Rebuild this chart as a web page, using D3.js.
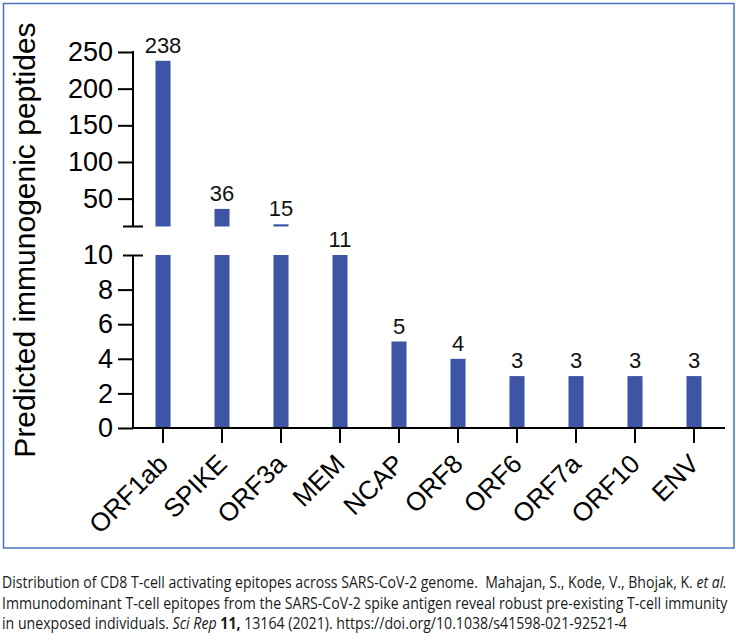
<!DOCTYPE html>
<html>
<head>
<meta charset="utf-8">
<script src="https://cdn.jsdelivr.net/npm/d3@7"></script>
<style>
  html, body { margin: 0; padding: 0; background: #fff; }
  svg { display: block; }
</style>
</head>
<body>
<div id="chart"></div>
<script>
// ---- data ----
const categories = ["ORF1ab", "SPIKE", "ORF3a", "MEM", "NCAP", "ORF8", "ORF6", "ORF7a", "ORF10", "ENV"];
const values = [238, 36, 15, 11, 5, 4, 3, 3, 3, 3];
const upperTicks = [50, 100, 150, 200, 250];
const lowerTicks = [0, 2, 4, 6, 8, 10];
const lowerDomain = [0, 10];
const upperDomain = [12, 250];
const yTitle = "Predicted immunogenic peptides";

const W = 736, H = 644;
const svg = d3.select("#chart").append("svg").attr("width", W).attr("height", H);

// frame
svg.append("rect").attr("x", 3.5).attr("y", 3.5).attr("width", 730.5).attr("height", 544.5)
  .attr("fill", "none").attr("stroke", "#4a72c2").attr("stroke-width", 1.5);

const axisX = 133;
const x = d3.scaleBand().domain(categories).range([133.5, 723.5]).padding(0);
const barW = x.bandwidth() * 0.255;
const yLow = d3.scaleLinear().domain(lowerDomain).range([428, 255]);
const yUp = d3.scaleLinear().domain(upperDomain).range([226.5, 52]);

const font = "'Liberation Sans', Arial, Helvetica, sans-serif";
const barColor = "#3e54a5";

// bars - lower segment
svg.append("g").selectAll("rect").data(values).join("rect")
  .attr("x", (d, i) => x(categories[i]) + x.bandwidth() / 2 - barW / 2)
  .attr("width", barW)
  .attr("y", d => yLow(Math.min(d, lowerDomain[1])))
  .attr("height", d => yLow(0) - yLow(Math.min(d, lowerDomain[1])))
  .attr("fill", barColor);

// bars - upper segment
const upperData = values.map((v, i) => ({ c: categories[i], v })).filter(d => d.v > upperDomain[0]);
svg.append("g").selectAll("rect").data(upperData).join("rect")
  .attr("x", d => x(d.c) + x.bandwidth() / 2 - barW / 2)
  .attr("width", barW)
  .attr("y", d => yUp(d.v))
  .attr("height", d => yUp(upperDomain[0]) - yUp(d.v))
  .attr("fill", barColor);

// value labels
svg.append("g").selectAll("text").data(values).join("text")
  .attr("x", (d, i) => x(categories[i]) + x.bandwidth() / 2)
  .attr("y", d => (d > upperDomain[0] ? yUp(d) : yLow(Math.min(d, lowerDomain[1]))) - 8)
  .attr("text-anchor", "middle")
  .attr("font-family", font).attr("font-size", 22).attr("fill", "#111")
  .text(d => d);

// lower y axis
const gLow = svg.append("g").attr("transform", `translate(${axisX},0)`)
  .call(d3.axisLeft(yLow).tickValues(lowerTicks).tickSize(15).tickPadding(5).tickFormat(d3.format("d")));
gLow.select(".domain").remove();
gLow.selectAll(".tick line").attr("stroke", "#000").attr("stroke-width", 2)
  .filter(d => d === lowerDomain[1]).attr("x1", -10).attr("x2", 10);
gLow.selectAll(".tick text").attr("font-family", font).attr("font-size", 27).attr("fill", "#000");
gLow.append("line").attr("x1", 0).attr("x2", 0).attr("y1", yLow(lowerDomain[1])).attr("y2", yLow(0))
  .attr("stroke", "#000").attr("stroke-width", 2);

// upper y axis
const gUp = svg.append("g").attr("transform", `translate(${axisX},0)`)
  .call(d3.axisLeft(yUp).tickValues(upperTicks).tickSize(15).tickPadding(5).tickFormat(d3.format("d")));
gUp.select(".domain").remove();
gUp.selectAll(".tick line").attr("stroke", "#000").attr("stroke-width", 2);
gUp.selectAll(".tick text").attr("font-family", font).attr("font-size", 27).attr("fill", "#000");
gUp.append("line").attr("x1", 0).attr("x2", 0).attr("y1", yUp(upperTicks[upperTicks.length - 1]) - 1).attr("y2", yUp(upperDomain[0]))
  .attr("stroke", "#000").attr("stroke-width", 2);
gUp.append("line").attr("x1", -10).attr("x2", 10).attr("y1", yUp(upperDomain[0])).attr("y2", yUp(upperDomain[0]))
  .attr("stroke", "#000").attr("stroke-width", 2);

// x axis
const gX = svg.append("g").attr("transform", `translate(0,${yLow(0)})`)
  .call(d3.axisBottom(x).tickSize(15).tickSizeOuter(0));
gX.select(".domain").attr("d", `M${axisX},0H725`).attr("stroke", "#000").attr("stroke-width", 2);
gX.selectAll(".tick line").attr("stroke", "#000").attr("stroke-width", 2);
gX.selectAll(".tick text")
  .attr("font-family", font).attr("font-size", 26).attr("fill", "#000")
  .attr("text-anchor", "end")
  .attr("x", 0).attr("y", 0).attr("dy", "0.35em")
  .attr("transform", "translate(0,31) rotate(-45)");

// y title
svg.append("text")
  .attr("transform", "translate(35,240) rotate(-90)")
  .attr("text-anchor", "middle")
  .attr("font-family", font).attr("font-size", 30).attr("fill", "#000")
  .text(yTitle);

// caption
const capFont = "'Open Sans', 'Noto Sans', sans-serif";
const cap = svg.append("g").attr("font-family", capFont).attr("font-size", 15.5).attr("fill", "#1a1a1a");
function fitLine(sel, y, target) {
  sel.attr("x", 0).attr("y", 0);
  const w = sel.node().getComputedTextLength();
  sel.attr("transform", `translate(2,${y}) scale(${target / w},1)`);
}
const l1 = cap.append("text");
l1.append("tspan").text("Distribution of CD8 T-cell activating epitopes across SARS-CoV-2 genome.  Mahajan, S., Kode, V., Bhojak, K. ");
l1.append("tspan").attr("font-style", "italic").text("et al.");
l1.attr("xml:space", "preserve").style("white-space", "pre");
fitLine(l1, 588, 725);
const l2 = cap.append("text");
l2.text("Immunodominant T-cell epitopes from the SARS-CoV-2 spike antigen reveal robust pre-existing T-cell immunity");
fitLine(l2, 609, 726);
const l3 = cap.append("text");
l3.append("tspan").text("in unexposed individuals. ");
l3.append("tspan").attr("font-style", "italic").text("Sci Rep");
l3.append("tspan").text(" ");
l3.append("tspan").attr("font-weight", "bold").text("11,");
l3.append("tspan").text(" 13164 (2021). https://doi.org/10.1038/s41598-021-92521-4");
l3.style("white-space", "pre");
fitLine(l3, 629, 625);
</script>
</body>
</html>
